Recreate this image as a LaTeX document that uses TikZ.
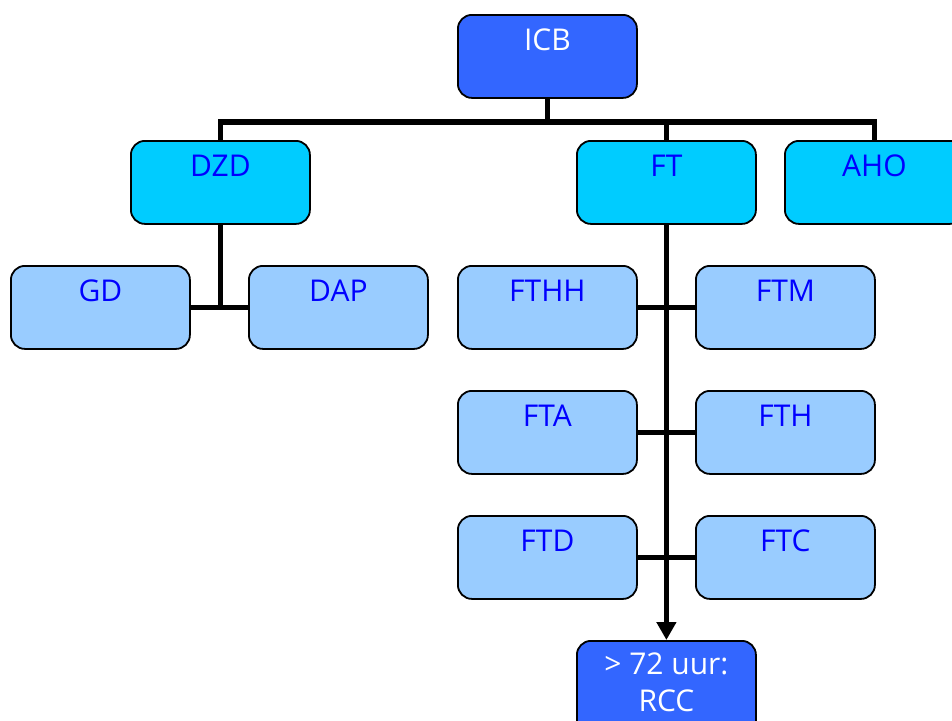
\documentclass[tikz,border=0pt]{standalone}
\usepackage{fontspec}
\setmainfont{Open Sans}
\usetikzlibrary{arrows.meta,backgrounds}
\definecolor{dkblue}{HTML}{3366FF}
\definecolor{cyanbox}{HTML}{00CCFF}
\definecolor{ltbox}{HTML}{99CCFF}
\definecolor{txtblue}{HTML}{0000FF}
\tikzset{
  box/.style={draw=black, line width=1.8pt, rounded corners=14pt, anchor=north west,
    minimum width=179pt, inner sep=0pt, text height=36pt, text depth=47pt,
    font=\fontsize{30}{37}\selectfont},
  topbox/.style={box, fill=dkblue, text=white},
  midbox/.style={box, fill=cyanbox, text=txtblue},
  lowbox/.style={box, fill=ltbox, text=txtblue},
  conn/.style={line width=5.5pt, black},
}
\begin{document}
\begin{tikzpicture}[x=1pt,y=-1pt]
\clip (0,0) rectangle (952,720);
\node[topbox] (icb) at (457,14) {ICB};
\node[midbox] (dzd) at (130,140) {DZD};
\node[midbox] (ft) at (576,140) {FT};
\node[midbox] (aho) at (784,140) {AHO};
\node[lowbox] (gd) at (10,265) {GD};
\node[lowbox] (dap) at (248,265) {DAP};
\node[lowbox] (fthh) at (457,265) {FTHH};
\node[lowbox] (ftm) at (695,265) {FTM};
\node[lowbox] (fta) at (457,390) {FTA};
\node[lowbox] (fth) at (695,390) {FTH};
\node[lowbox] (ftd) at (457,515) {FTD};
\node[lowbox] (ftc) at (695,515) {FTC};
\node[topbox, text height=34pt, text depth=66pt] (rcc) at (576,640)
  {\begin{tabular}[t]{@{}c@{}}> 72 uur:\\RCC\end{tabular}};
\coordinate (bus) at (546,122);
\begin{scope}[on background layer]
\fill[white] (0,0) rectangle (952,720);
\draw[conn] (icb.south) -- (icb.south |- bus);
\draw[conn] (dzd.north) -- (dzd.north |- bus) -- (aho.north |- bus) -- (aho.north);
\draw[conn] (ft.north) -- (ft.north |- bus);
\draw[conn] (dzd.south) -- (dzd.south |- gd.east);
\draw[conn] (gd.east) -- (dap.west);
\draw[conn] (fthh.east) -- (ftm.west);
\draw[conn] (fta.east) -- (fth.west);
\draw[conn] (ftd.east) -- (ftc.west);
\end{scope}
\draw[conn, -{Triangle[length=18pt,width=19pt]}] (ft.south) -- (rcc.north);
\end{tikzpicture}
\end{document}
